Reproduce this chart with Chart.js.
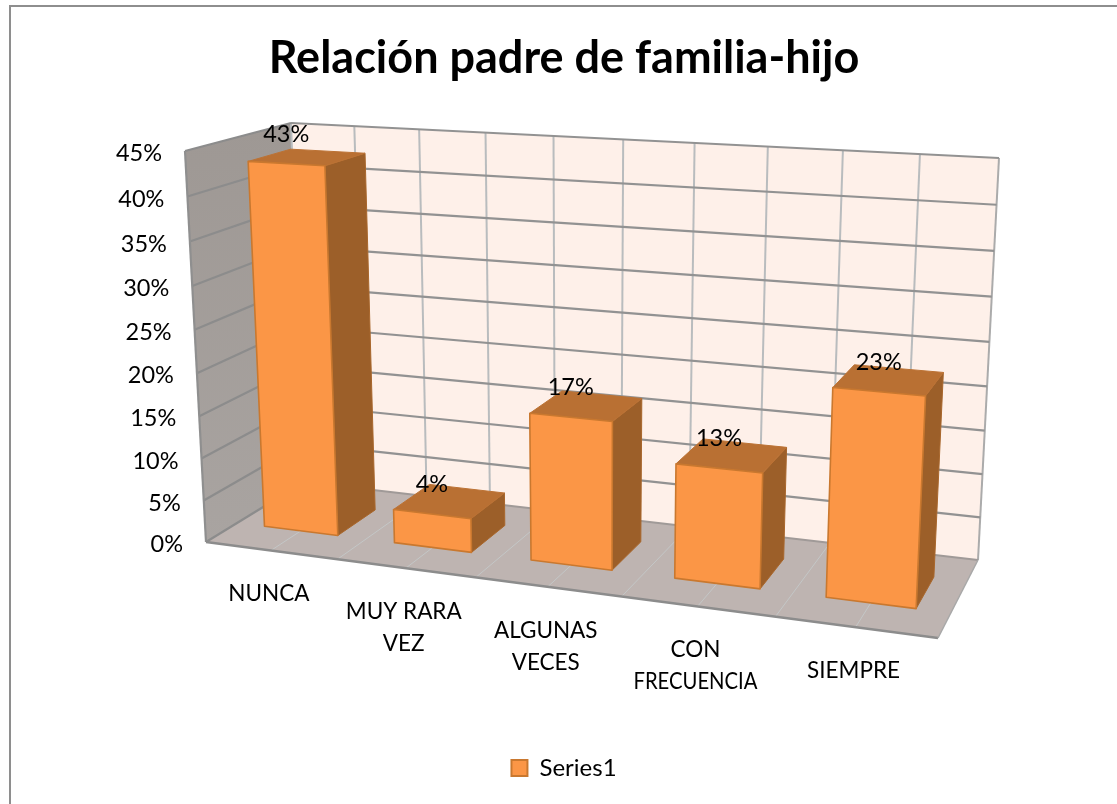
<!DOCTYPE html>
<html>
<head>
<meta charset="utf-8">
<script src="https://cdn.jsdelivr.net/npm/chart.js@4"></script>
<style>
html,body{margin:0;padding:0;background:#fff;overflow:hidden}
#frame{position:absolute;left:9px;top:5px;width:1106px;height:799px;border:2px solid #8e8e8e;border-bottom:none;background:#fff}
canvas{display:block}
</style>
</head>
<body>
<div id="frame"><canvas id="c" width="1106" height="799"></canvas></div>
<script>
const categories = [["NUNCA"], ["MUY RARA","VEZ"], ["ALGUNAS","VECES"], ["CON","FRECUENCIA"], ["SIEMPRE"]];
const seriesName = "Series1";
const seriesValues = [43, 4, 17, 13, 23];
const chartTitle = "Relación padre de familia-hijo";
const axisMax = 45, axisStep = 5;

const FONT = "Lato, 'Open Sans', sans-serif";
const OX = 11, OY = 7; // canvas origin inside the page

// View of the 3D box (page pixels): front and back planes, as [bl, br, tl, tr]
const frontQuad = [[206,542],[938,638],[185,151],[959,194]].map(p=>[p[0]-OX,p[1]-OY]);
const backQuad  = [[304,482],[978,560],[291,123],[999,158]].map(p=>[p[0]-OX,p[1]-OY]);
const BAR_T0 = 0.32, BAR_T1 = 0.73;

function homography(q){
  // unit square -> quad; (0,0)=bl (1,0)=br (0,1)=tl (1,1)=tr
  const [p0,p1,p3,p2]=q;
  const dx1=p1[0]-p2[0],dx2=p3[0]-p2[0],sx=p0[0]-p1[0]+p2[0]-p3[0];
  const dy1=p1[1]-p2[1],dy2=p3[1]-p2[1],sy=p0[1]-p1[1]+p2[1]-p3[1];
  const d=dx1*dy2-dx2*dy1;
  const g=(sx*dy2-dx2*sy)/d,h=(dx1*sy-sx*dy1)/d;
  const a=p1[0]-p0[0]+g*p1[0],b=p3[0]-p0[0]+h*p3[0],c=p0[0];
  const e=p1[1]-p0[1]+g*p1[1],f=p3[1]-p0[1]+h*p3[1],k=p0[1];
  return (u,v)=>{const w=g*u+h*v+1;return [(a*u+b*v+c)/w,(e*u+f*v+k)/w];};
}
const Hf=homography(frontQuad), Hb=homography(backQuad);
function P(u,v,t){const a=Hf(u,v),b=Hb(u,v);return [a[0]+(b[0]-a[0])*t,a[1]+(b[1]-a[1])*t];}

function poly(ctx,pts,fill,stroke,lw){
  ctx.beginPath();pts.forEach((p,i)=>i?ctx.lineTo(p[0],p[1]):ctx.moveTo(p[0],p[1]));ctx.closePath();
  if(fill){ctx.fillStyle=fill;ctx.fill();}
  if(stroke){ctx.strokeStyle=stroke;ctx.lineWidth=lw||1;ctx.lineJoin='round';ctx.stroke();}
}
function seg(ctx,a,b,color,lw){ctx.beginPath();ctx.moveTo(a[0],a[1]);ctx.lineTo(b[0],b[1]);ctx.strokeStyle=color;ctx.lineWidth=lw;ctx.stroke();}

const box3d = {
  id:'box3d',
  beforeDatasetsDraw(chart){
    const ctx=chart.ctx, ys=chart.scales.y, ca=chart.chartArea;
    const vOf=px=>(ca.bottom-px)/(ca.bottom-ca.top);
    ctx.save();
    // walls and floor
    poly(ctx,[P(0,0,1),P(1,0,1),P(1,1,1),P(0,1,1)],'#FEF0E9');
    const lg=ctx.createLinearGradient(0,120,0,540);lg.addColorStop(0,'#9E9894');lg.addColorStop(1,'#A9A4A1');
    poly(ctx,[P(0,0,0),P(0,0,1),P(0,1,1),P(0,1,0)],lg);
    poly(ctx,[P(0,0,0),P(1,0,0),P(1,0,1),P(0,0,1)],'#BEB4B1');
    // vertical divisions on back wall and floor, two per category
    const n=categories.length*2;
    for(let i=0;i<=n;i++){
      const u=i/n;
      seg(ctx,P(u,0,1),P(u,1,1),i===n?'#ababab':'#b9bcbe',2);
      if(i>0&&i<n) seg(ctx,P(u,0,0),P(u,0,1),'#c4c7c7',1);
    }
    // value gridlines from the y scale
    ys.ticks.forEach(t=>{
      const v=vOf(ys.getPixelForValue(t.value));
      seg(ctx,P(0,v,0),P(0,v,1),'#8c8c8c',2.2);
      seg(ctx,P(0,v,1),P(1,v,1),t.value===0?'#a09a98':'#929292',2.2);
    });
    seg(ctx,P(0,0,0),P(0,1,0),'#8f8f8f',2.2);
    seg(ctx,P(0,0,0),P(1,0,0),'#8c8c8c',2.4);
    seg(ctx,P(1,0,0),P(1,0,1),'#a8a8a8',1.5);
    // y tick labels
    ctx.font='23.5px '+FONT;ctx.fillStyle='#000';ctx.textAlign='right';ctx.textBaseline='middle';
    ys.ticks.forEach(t=>{
      const v=vOf(ys.getPixelForValue(t.value));
      const p=P(0,v,0);
      ctx.fillText(t.label,p[0]-23,p[1]+2.5);
    });
    ctx.restore();
  },
  beforeDatasetDraw(chart,args){
    const ctx=chart.ctx, meta=args.meta, ds=chart.data.datasets[args.index], ca=chart.chartArea, xs=chart.scales.x;
    const W=ca.right-ca.left, H=ca.bottom-ca.top;
    ctx.save();
    meta.data.forEach((el,i)=>{
      const u0=(el.x-el.width/2-ca.left)/W,u1=(el.x+el.width/2-ca.left)/W;
      const v=(ca.bottom-el.y)/H,v0=(ca.bottom-el.base)/H;
      const t0=BAR_T0,t1=BAR_T1,edge=ds.borderColor;
      poly(ctx,[P(u1,v0,t0),P(u1,v0,t1),P(u1,v,t1),P(u1,v,t0)],'#9C5F29','#A9672C',1);
      poly(ctx,[P(u0,v,t0),P(u1,v,t0),P(u1,v,t1),P(u0,v,t1)],'#B97033','#BC7234',1);
      poly(ctx,[P(u0,v0,t0),P(u1,v0,t0),P(u1,v,t0),P(u0,v,t0)],ds.backgroundColor,edge,1.6);
    });
    // value labels
    ctx.font='23.5px '+FONT;ctx.fillStyle='#000';ctx.textAlign='center';ctx.textBaseline='middle';
    meta.data.forEach((el,i)=>{
      const uc=(el.x-ca.left)/W,v=(ca.bottom-el.y)/H;
      const p=P(uc,v,BAR_T0);
      ctx.fillText(ds.data[i]+'%',p[0],p[1]-29.5);
    });
    // category labels from the x scale
    ctx.font='22.5px '+FONT;
    xs.ticks.forEach((t,i)=>{
      const uc=(xs.getPixelForTick(i)-ca.left)/W;
      const p=P(uc,0,0);
      const lines=[].concat(xs.getLabelForValue(t.value));
      lines.forEach((s,j)=>ctx.fillText(s,p[0]-2,p[1]+43.5+j*32,124));
    });
    ctx.restore();
    return false;
  }
};

new Chart(document.getElementById('c'),{
  type:'bar',
  data:{labels:categories,datasets:[{label:seriesName,data:seriesValues,backgroundColor:'#FB9646',borderColor:'#C9782F',borderWidth:2,categoryPercentage:1,barPercentage:0.57}]},
  plugins:[box3d],
  options:{
    responsive:false,animation:false,
    layout:{padding:{top:0,bottom:16,left:0,right:0}},
    scales:{
      x:{display:true,grid:{display:false},border:{display:false},ticks:{display:false}},
      y:{display:true,min:0,max:axisMax,grid:{display:false},border:{display:false},
         ticks:{display:false,stepSize:axisStep,callback:v=>v+'%'}}
    },
    plugins:{
      tooltip:{enabled:false},
      title:{display:true,text:chartTitle,color:'#000',font:{family:FONT,size:45,weight:'bold'},padding:{top:24,bottom:10}},
      legend:{display:true,position:'bottom',labels:{color:'#000',font:{family:FONT,size:24},boxWidth:16,boxHeight:16,padding:6}}
    }
  }
});
</script>
</body>
</html>
